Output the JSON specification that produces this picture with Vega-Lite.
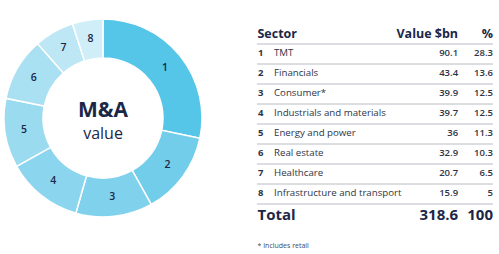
{
  "$schema": "https://vega.github.io/schema/vega-lite/v6.json",
  "padding": 0,
  "spacing": 50,
  "background": "white",
  "config": {"view": {"stroke": null}, "font": "Open Sans"},
  "datasets": {
    "sectors": [
      {"n": 1, "sector": "TMT", "value": 90.1, "pct": 28.3},
      {"n": 2, "sector": "Financials", "value": 43.4, "pct": 13.6},
      {"n": 3, "sector": "Consumer*", "value": 39.9, "pct": 12.5},
      {"n": 4, "sector": "Industrials and materials", "value": 39.7, "pct": 12.5},
      {"n": 5, "sector": "Energy and power", "value": 36, "pct": 11.3},
      {"n": 6, "sector": "Real estate", "value": 32.9, "pct": 10.3},
      {"n": 7, "sector": "Healthcare", "value": 20.7, "pct": 6.5},
      {"n": 8, "sector": "Infrastructure and transport", "value": 15.9, "pct": 5}
    ]
  },
  "hconcat": [
    {
      "width": 206,
      "height": 236,
      "data": {"name": "sectors"},
      "encoding": {
        "theta": {"field": "value", "type": "quantitative", "stack": true},
        "order": {"field": "n", "type": "quantitative"}
      },
      "layer": [
        {
          "mark": {"type": "arc", "innerRadius": 60, "outerRadius": 99, "stroke": "white", "strokeWidth": 1.5},
          "encoding": {
            "color": {
              "field": "n", "type": "ordinal", "legend": null,
              "scale": {"domain": [1,2,3,4,5,6,7,8], "range": ["#55c5e8", "#72cdea", "#80d1ec", "#8cd5ee", "#9bdbf0", "#a9e0f2", "#bde7f4", "#cfeef8"]}
            }
          }
        },
        {
          "mark": {"type": "text", "radius": 80, "fontSize": 10.5, "fill": "#1c2748", "fontWeight": 600},
          "encoding": {"text": {"field": "n", "type": "nominal"}}
        },
        {
          "data": {"values": [{"t": "M&A"}]},
          "mark": {"type": "text", "fontSize": 21, "fontWeight": "bold", "fill": "#1c2748", "dy": -7},
          "encoding": {"text": {"field": "t"}, "theta": null, "order": null}
        },
        {
          "data": {"values": [{"t": "value"}]},
          "mark": {"type": "text", "fontSize": 16, "fill": "#1c2748", "dy": 16},
          "encoding": {"text": {"field": "t"}, "theta": null, "order": null}
        }
      ]
    },
    {
      "width": 236,
      "height": 254,
      "layer": [
        {
          "data": {"values": [{"r": 0}, {"r": 1}, {"r": 2}, {"r": 3}, {"r": 4}, {"r": 5}, {"r": 6}, {"r": 7}, {"r": 8}]},
          "mark": {"type": "rule", "stroke": "#b9bcc4", "strokeWidth": 1, "yOffset": 11},
          "encoding": {"y": {"field": "r", "type": "quantitative", "axis": null, "scale": {"domain": [0, 10], "range": [33, 233]}}}
        },
        {
          "data": {"values": [{"r": 0, "a": "Sector", "b": "Value $bn", "c": "%"}]},
          "encoding": {"y": {"field": "r", "type": "quantitative", "axis": null}},
          "layer": [
            {"mark": {"type": "text", "align": "left", "fontSize": 12.5, "fontWeight": "bold", "fill": "#1c2748", "dy": 1},
             "encoding": {"x": {"datum": 0.2, "type": "quantitative", "axis": null, "scale": {"domain": [0, 100], "zero": false, "nice": false}}, "text": {"field": "a"}}},
            {"mark": {"type": "text", "align": "right", "fontSize": 12.5, "fontWeight": "bold", "fill": "#1c2748", "dy": 1},
             "encoding": {"x": {"datum": 85.2, "type": "quantitative", "axis": null}, "text": {"field": "b"}}},
            {"mark": {"type": "text", "align": "right", "fontSize": 12.5, "fontWeight": "bold", "fill": "#1c2748", "dy": 1},
             "encoding": {"x": {"datum": 100, "type": "quantitative", "axis": null}, "text": {"field": "c"}}}
          ]
        },
        {
          "data": {"name": "sectors"},
          "encoding": {"y": {"field": "n", "type": "quantitative", "axis": null}},
          "layer": [
            {"mark": {"type": "text", "align": "left", "fontSize": 9.5, "fontWeight": "bold", "fill": "#2e3447"},
             "encoding": {"x": {"datum": 0.4, "type": "quantitative", "axis": null}, "text": {"field": "n"}}},
            {"mark": {"type": "text", "align": "left", "fontSize": 9.7, "fill": "#2e3447"},
             "encoding": {"x": {"datum": 7.2, "type": "quantitative", "axis": null}, "text": {"field": "sector"}}},
            {"mark": {"type": "text", "align": "right", "fontSize": 9.5, "fontWeight": 600, "fill": "#2e3447"},
             "encoding": {"x": {"datum": 85.2, "type": "quantitative", "axis": null}, "text": {"field": "value"}}},
            {"mark": {"type": "text", "align": "right", "fontSize": 9.5, "fontWeight": 600, "fill": "#2e3447"},
             "encoding": {"x": {"datum": 100, "type": "quantitative", "axis": null}, "text": {"field": "pct"}}}
          ]
        },
        {
          "data": {"values": [{"r": 9, "a": "Total", "b": "318.6", "c": "100"}]},
          "encoding": {"y": {"field": "r", "type": "quantitative", "axis": null}},
          "layer": [
            {"mark": {"type": "text", "align": "left", "fontSize": 15, "fontWeight": "bold", "fill": "#1c2748", "dy": 2},
             "encoding": {"x": {"datum": 0.2, "type": "quantitative", "axis": null}, "text": {"field": "a"}}},
            {"mark": {"type": "text", "align": "right", "fontSize": 15, "fontWeight": "bold", "fill": "#1c2748", "dy": 2},
             "encoding": {"x": {"datum": 85.2, "type": "quantitative", "axis": null}, "text": {"field": "b"}}},
            {"mark": {"type": "text", "align": "right", "fontSize": 15, "fontWeight": "bold", "fill": "#1c2748", "dy": 2},
             "encoding": {"x": {"datum": 100, "type": "quantitative", "axis": null}, "text": {"field": "c"}}}
          ]
        },
        {
          "data": {"values": [{"r": 10, "a": "* Includes retail"}]},
          "mark": {"type": "text", "align": "left", "fontSize": 7, "fill": "#444a5a", "dy": 13},
          "encoding": {"y": {"field": "r", "type": "quantitative", "axis": null}, "x": {"datum": 0.2, "type": "quantitative", "axis": null}, "text": {"field": "a"}}
        }
      ],
      "resolve": {"scale": {"x": "shared", "y": "shared"}}
    }
  ]
}
